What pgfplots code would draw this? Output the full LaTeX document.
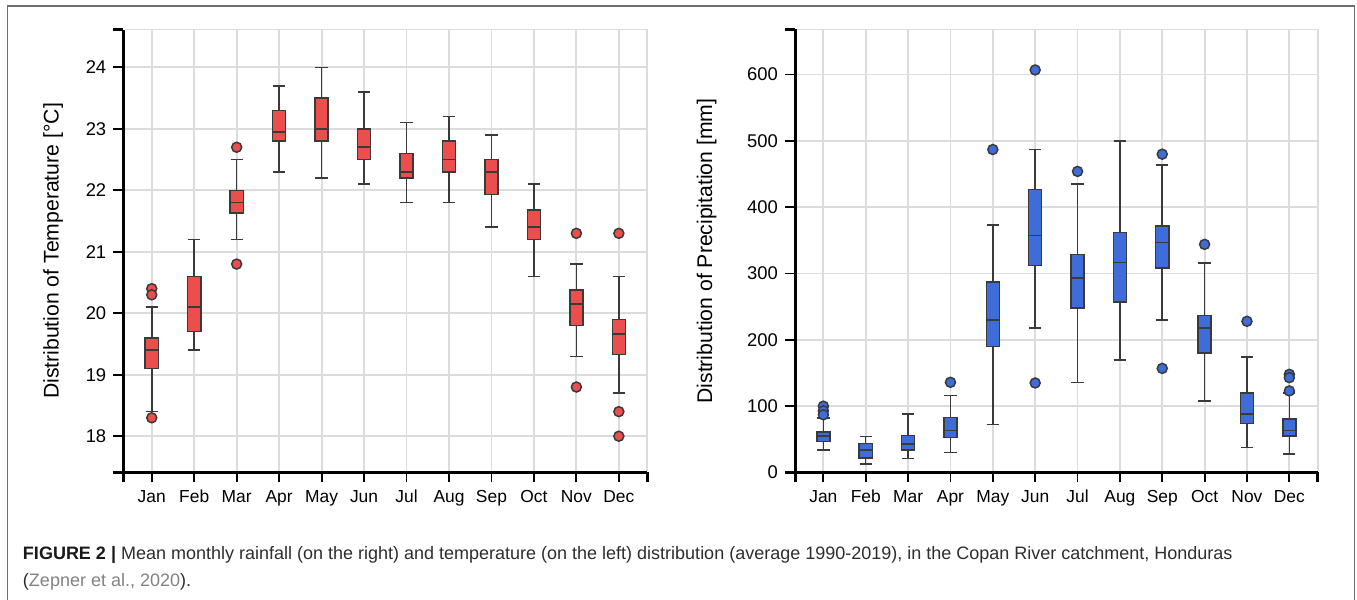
\documentclass[border=0pt]{standalone}
\usepackage{pgfplots}
\pgfplotsset{compat=1.18}
\usepgfplotslibrary{statistics}
\usepackage{fontspec}
\setmainfont{Liberation Sans}

\definecolor{tred}{RGB}{236,78,78}
\definecolor{pblue}{RGB}{62,108,216}
\definecolor{dgray}{RGB}{58,58,58}
\definecolor{gridgray}{RGB}{220,220,220}
\definecolor{capgray}{RGB}{45,45,45}
\definecolor{linkgray}{RGB}{130,130,130}
\definecolor{framegray}{RGB}{110,110,110}

\pgfplotsset{
  d3axis/.style={
    scale only axis,
    height=221.5pt,
    axis lines=left,
    axis line style={line width=1.5pt, -},
    xmin=0.33, xmax=12.67,
    xtick={1,...,12},
    xticklabels={Jan,Feb,Mar,Apr,May,Jun,Jul,Aug,Sep,Oct,Nov,Dec},
    tick align=outside,
    major tick length=5pt,
    tick style={black, line width=0.9pt},
    grid=major,
    grid style={gridgray, line width=0.9pt},
    xticklabel style={font=\fontsize{8.7}{10}\selectfont, text height=1.6ex, text depth=0.4ex, yshift=2pt},
    yticklabel style={font=\fontsize{9.2}{10}\selectfont},
    label style={font=\fontsize{10.6}{13}\selectfont},
    /pgf/number format/assume math mode=true,
    clip=false,
    boxplot/draw direction=y,
    boxplot/box extend=0.31,
    boxplot/whisker extend=0.29,
  },
  tempbox/.style={draw=dgray, fill=tred, line width=0.75pt,
    mark=*, mark size=2.5pt, mark options={fill=tred, draw=dgray},
    boxplot/draw direction=y},
  precbox/.style={draw=dgray, fill=pblue, line width=0.75pt,
    mark=*, mark size=2.5pt, mark options={fill=pblue, draw=dgray},
    boxplot/draw direction=y},
}

\newcommand{\domainticks}{%
  \draw[gridgray, line width=0.9pt] (rel axis cs:0.004,1) -- (rel axis cs:1,1) -- (rel axis cs:1,0.004);
  \draw[black, line width=1.5pt] (rel axis cs:0,1) -- ([xshift=-5pt]rel axis cs:0,1);
  \draw[black, line width=1.5pt] (rel axis cs:0,0) -- ([xshift=-5pt]rel axis cs:0,0);
  \draw[black, line width=1.5pt] (rel axis cs:0,0) -- ([yshift=-5pt]rel axis cs:0,0);
  \draw[black, line width=1.5pt] (rel axis cs:1,0) -- ([yshift=-5pt]rel axis cs:1,0);
}

\begin{document}
\begin{tikzpicture}
\useasboundingbox (0,0) rectangle (678.5pt,300pt);

% temperature
\begin{axis}[d3axis,
  at={(61.65pt,63.75pt)}, anchor=south west,
  width=262pt,
  ymin=17.41, ymax=24.615,
  ytick={18,...,24},
  ylabel={Distribution of Temperature [°C]},
  ylabel style={at={(axis description cs:-0.134,0.5)}, anchor=center},
]
\addplot[tempbox, boxplot prepared={draw position=1, lower whisker=18.4, lower quartile=19.1, median=19.4, upper quartile=19.6, upper whisker=20.1}] coordinates {(1,20.4) (1,20.3) (1,18.3)};
\addplot[tempbox, boxplot prepared={draw position=2, lower whisker=19.4, lower quartile=19.7, median=20.1, upper quartile=20.6, upper whisker=21.2}] coordinates {};
\addplot[tempbox, boxplot prepared={draw position=3, lower whisker=21.2, lower quartile=21.63, median=21.8, upper quartile=22.0, upper whisker=22.5}] coordinates {(3,22.7) (3,20.8)};
\addplot[tempbox, boxplot prepared={draw position=4, lower whisker=22.3, lower quartile=22.8, median=22.95, upper quartile=23.3, upper whisker=23.7}] coordinates {};
\addplot[tempbox, boxplot prepared={draw position=5, lower whisker=22.2, lower quartile=22.8, median=23.0, upper quartile=23.5, upper whisker=24.0}] coordinates {};
\addplot[tempbox, boxplot prepared={draw position=6, lower whisker=22.1, lower quartile=22.5, median=22.7, upper quartile=23.0, upper whisker=23.6}] coordinates {};
\addplot[tempbox, boxplot prepared={draw position=7, lower whisker=21.8, lower quartile=22.2, median=22.3, upper quartile=22.6, upper whisker=23.1}] coordinates {};
\addplot[tempbox, boxplot prepared={draw position=8, lower whisker=21.8, lower quartile=22.3, median=22.5, upper quartile=22.8, upper whisker=23.2}] coordinates {};
\addplot[tempbox, boxplot prepared={draw position=9, lower whisker=21.4, lower quartile=21.93, median=22.3, upper quartile=22.5, upper whisker=22.9}] coordinates {};
\addplot[tempbox, boxplot prepared={draw position=10, lower whisker=20.6, lower quartile=21.2, median=21.4, upper quartile=21.68, upper whisker=22.1}] coordinates {};
\addplot[tempbox, boxplot prepared={draw position=11, lower whisker=19.3, lower quartile=19.8, median=20.15, upper quartile=20.38, upper whisker=20.8}] coordinates {(11,21.3) (11,18.8)};
\addplot[tempbox, boxplot prepared={draw position=12, lower whisker=18.7, lower quartile=19.33, median=19.66, upper quartile=19.9, upper whisker=20.6}] coordinates {(12,21.3) (12,18.4) (12,18.0)};
\domainticks
\end{axis}

% precipitation
\begin{axis}[d3axis,
  at={(397.5pt,63.75pt)}, anchor=south west,
  width=261.35pt,
  ymin=0, ymax=668,
  ytick={0,100,...,600},
  ylabel={Distribution of Precipitation [mm]},
  ylabel style={at={(axis description cs:-0.169,0.5)}, anchor=center},
]
\addplot[precbox, boxplot prepared={draw position=1, lower whisker=34, lower quartile=47, median=55, upper quartile=61, upper whisker=82}] coordinates {(1,100) (1,93) (1,87)};
\addplot[precbox, boxplot prepared={draw position=2, lower whisker=13, lower quartile=22, median=34, upper quartile=44, upper whisker=54}] coordinates {};
\addplot[precbox, boxplot prepared={draw position=3, lower whisker=21, lower quartile=34, median=43, upper quartile=56, upper whisker=88}] coordinates {};
\addplot[precbox, boxplot prepared={draw position=4, lower whisker=30, lower quartile=53, median=63, upper quartile=83, upper whisker=116}] coordinates {(4,136)};
\addplot[precbox, boxplot prepared={draw position=5, lower whisker=72, lower quartile=190, median=230, upper quartile=287, upper whisker=373}] coordinates {(5,487)};
\addplot[precbox, boxplot prepared={draw position=6, lower whisker=218, lower quartile=312, median=357, upper quartile=427, upper whisker=487}] coordinates {(6,607) (6,135)};
\addplot[precbox, boxplot prepared={draw position=7, lower whisker=136, lower quartile=248, median=293, upper quartile=329, upper whisker=435}] coordinates {(7,454)};
\addplot[precbox, boxplot prepared={draw position=8, lower whisker=170, lower quartile=257, median=317, upper quartile=362, upper whisker=500}] coordinates {};
\addplot[precbox, boxplot prepared={draw position=9, lower whisker=230, lower quartile=308, median=347, upper quartile=372, upper whisker=464}] coordinates {(9,480) (9,157)};
\addplot[precbox, boxplot prepared={draw position=10, lower whisker=108, lower quartile=180, median=218, upper quartile=237, upper whisker=316}] coordinates {(10,344)};
\addplot[precbox, boxplot prepared={draw position=11, lower whisker=38, lower quartile=74, median=88, upper quartile=120, upper whisker=174}] coordinates {(11,228)};
\addplot[precbox, boxplot prepared={draw position=12, lower whisker=28, lower quartile=55, median=63, upper quartile=81, upper whisker=120}] coordinates {(12,148) (12,143) (12,123)};
\domainticks
\end{axis}

% figure frame and caption
\draw[framegray, line width=0.8pt] (3.75pt,-5pt) -- (3.75pt,297pt) -- (677.3pt,297pt) -- (677.3pt,-5pt);
\node[anchor=base west, inner sep=0, text=capgray, font=\fontsize{9}{10}\selectfont] at (11.3pt,20pt)
  {\textbf{\color{black!90}FIGURE 2 |} Mean monthly rainfall (on the right) and temperature (on the left) distribution (average 1990-2019), in the Copan River catchment, Honduras};
\node[anchor=base west, inner sep=0, text=capgray, font=\fontsize{9}{10}\selectfont] at (11.3pt,6.65pt)
  {(\textcolor{linkgray}{Zepner et al., 2020}).};
\end{tikzpicture}
\end{document}
